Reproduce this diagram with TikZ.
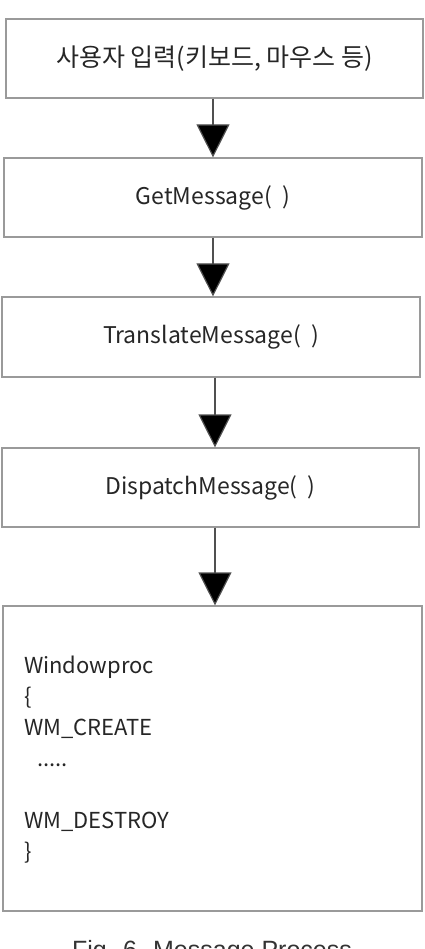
\documentclass[tikz,border=0pt]{standalone}
\usepackage{fontspec}
\setmainfont{Noto Sans CJK KR}
\newfontfamily\capfont{Liberation Sans}
\usetikzlibrary{arrows.meta}
\definecolor{boxgray}{HTML}{9A9A9A}
\definecolor{linegray}{HTML}{505050}
\tikzset{
  flowbox/.style={draw=boxgray, line width=1.2pt, inner sep=0pt, font=\fontsize{23}{28}\selectfont, text=black!85},
  codeline/.style={anchor=base west, inner sep=0pt, font=\fontsize{22}{26}\selectfont, text=black!85},
  flowarrow/.style={draw=linegray, line width=1.2pt, -{Triangle[width=33pt,length=33pt,fill=black]}, shorten >=0pt}
}
\begin{document}
\begin{tikzpicture}[x=1pt,y=-1pt]
\useasboundingbox (0,0) rectangle (424,949);
\clip (0,0) rectangle (424,949);
\node[flowbox, minimum width=417pt, minimum height=79pt, font=\fontsize{25}{30}\selectfont] (b1) at (214.5,58.5) {사용자 입력(키보드, 마우스 등)};
\node[flowbox, minimum width=418pt, minimum height=79pt] (b2) at (213,197.5) {GetMessage(\ \ )};
\node[flowbox, minimum width=418pt, minimum height=80pt] (b3) at (211,337) {TranslateMessage(\ \ )};
\node[flowbox, minimum width=417pt, minimum height=79pt] (b4) at (210.5,487.5) {DispatchMessage(\ \ )};
\node[flowbox, minimum width=419pt, minimum height=305pt] (b5) at (212.5,758.5) {};
\node[codeline] (l1) at (24,673) {Windowproc};
\node[codeline] (l2) at (24,704) {\{};
\node[codeline] (l3) at (24,735) {WM\_CREATE};
\node[codeline] (l4) at (37,766) {.....};
\node[codeline] (l5) at (24,828) {WM\_DESTROY};
\node[codeline] (l6) at (24,859) {\}};
\node[anchor=base, inner sep=0pt, font=\capfont\fontsize{25}{30}\selectfont, text=black!80] (cap) at (212,958) {Fig. 6. Message Process};
\draw[flowarrow] (b1.south -| 213,0) -- (b2.north -| 213,0);
\draw[flowarrow] (b2.south -| 213,0) -- (b3.north -| 213,0);
\draw[flowarrow] (b3.south -| 215,0) -- (b4.north -| 215,0);
\draw[flowarrow] (b4.south -| 215,0) -- (b5.north -| 215,0);
\end{tikzpicture}
\end{document}
